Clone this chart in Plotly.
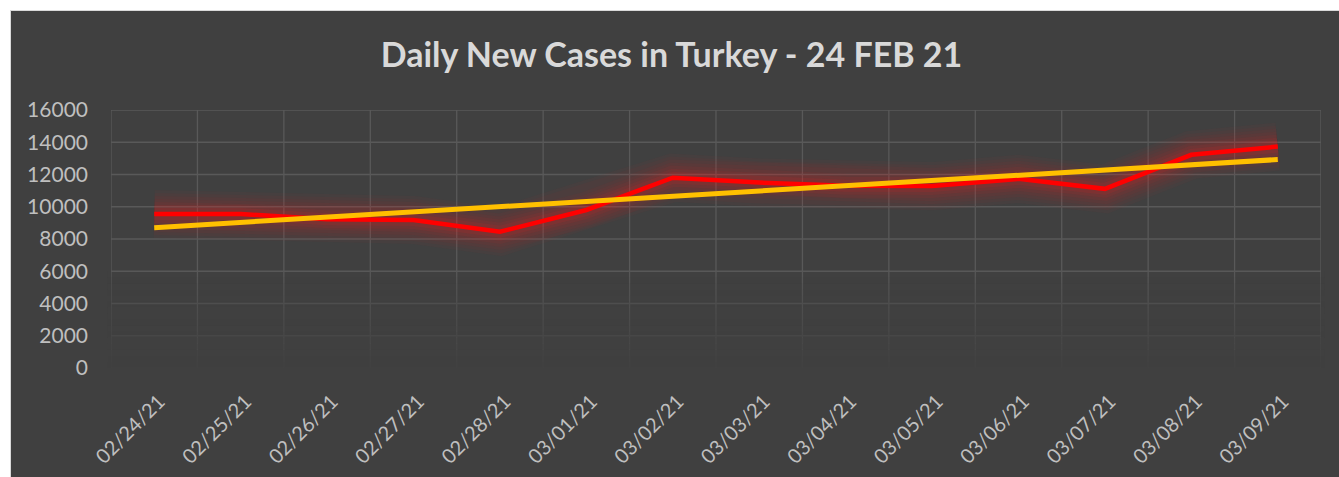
import numpy as np
import plotly.graph_objects as go

dates = ["02/24/21", "02/25/21", "02/26/21", "02/27/21", "02/28/21", "03/01/21", "03/02/21",
         "03/03/21", "03/04/21", "03/05/21", "03/06/21", "03/07/21", "03/08/21", "03/09/21"]
new_cases = [9550, 9550, 9220, 9180, 8450, 9800, 11800, 11500, 11300, 11280, 11730, 11110, 13220, 13730]
y_ticks = [0, 2000, 4000, 6000, 8000, 10000, 12000, 14000, 16000]
title_text = "Daily New Cases in Turkey - 24 FEB 21"

W, H = 1339, 477
FONT = "Lato"
GRID = "#595959"

# linear trendline (least squares, like Excel's trendline)
idx = np.arange(len(new_cases))
slope, intercept = np.polyfit(idx, new_cases, 1)
trend = (slope * idx + intercept).tolist()

fig = go.Figure()

# soft glow under the red line
for w, a in [(48, 0.03), (42, 0.035), (36, 0.04), (30, 0.045), (24, 0.055), (18, 0.07), (12, 0.1)]:
    fig.add_trace(go.Scatter(x=dates, y=new_cases, mode="lines",
                             line=dict(color=f"rgba(255,30,30,{a})", width=w),
                             hoverinfo="skip", showlegend=False))
fig.add_trace(go.Scatter(x=dates, y=new_cases, mode="lines",
                         line=dict(color="#ff0000", width=4.5), name="New cases",
                         showlegend=False))
fig.add_trace(go.Scatter(x=dates, y=trend, mode="lines",
                         line=dict(color="#ffc000", width=5), name="Trend",
                         showlegend=False))

shapes = []
# dark chart panel
shapes.append(dict(type="rect", xref="paper", yref="paper", x0=10.5 / W, x1=1.01,
                   y0=-0.01, y1=1 - 10.5 / H, fillcolor="#404040",
                   line=dict(color="#d9d9d9", width=1), layer="below"))
# gridlines (horizontal at y ticks, vertical at category boundaries)
for v in y_ticks:
    shapes.append(dict(type="line", xref="x domain", yref="y", x0=0, x1=1, y0=v, y1=v,
                       line=dict(color=GRID, width=1.3), layer="below"))
for i in range(len(dates) + 1):
    shapes.append(dict(type="line", xref="x", yref="y domain", x0=i - 0.5, x1=i - 0.5,
                       y0=0, y1=1, line=dict(color=GRID, width=1.3), layer="below"))
# fading of gridlines towards the bottom of the plot area
n = 16
for i in range(n):
    lo = 6000 * i / n
    hi = 6000 * (i + 1) / n
    op = 0.97 * (1 - (i + 0.5) / n) ** 0.8
    shapes.append(dict(type="rect", xref="x domain", yref="y", x0=-0.003, x1=1.003,
                       y0=lo, y1=hi, fillcolor="#404040", opacity=op,
                       line=dict(width=0), layer="below"))

fig.update_layout(
    width=W, height=H,
    margin=dict(l=0, r=0, t=0, b=0, autoexpand=False),
    paper_bgcolor="white",
    plot_bgcolor="rgba(0,0,0,0)",
    shapes=shapes,
    title=dict(text=title_text, x=0.5015, xanchor="center", y=1 - 55 / H, yanchor="middle",
               font=dict(family=FONT, size=34, color="#d9d9d9", weight="bold")),
    xaxis=dict(domain=[111 / W, 1321 / W], type="category", range=[-0.5, 13.5],
               showgrid=False, showline=False, zeroline=False, tickangle=-45, automargin=False,
               ticks="", ticklabelstandoff=17, ticklabelshift=5,
               tickfont=dict(family=FONT, size=20, color="#bfbfbf")),
    yaxis=dict(domain=[(H - 368) / H, (H - 110) / H], range=[0, 16000],
               tickvals=y_ticks, tickformat="d", showgrid=False, automargin=False,
               zeroline=False, showline=False,
               ticks="", ticklabelstandoff=22,
               tickfont=dict(family=FONT, size=21, color="#bfbfbf")),
)

fig.write_html("out.html", config={"displayModeBar": False},
               post_script="document.body.style.margin='0';")
